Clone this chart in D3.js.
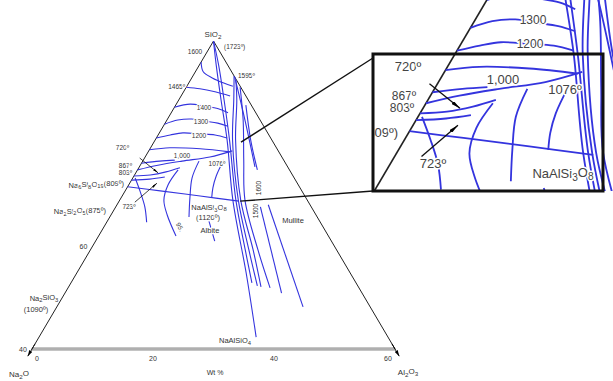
<!DOCTYPE html>
<html><head><meta charset="utf-8">
<script src="https://cdn.jsdelivr.net/npm/d3@7"></script>
<style>
html,body{margin:0;padding:0;background:#fff;}
svg{display:block;font-family:"Liberation Sans",Arial,sans-serif;}
</style></head><body>
<svg id="c" width="613" height="381"></svg>
<script>
// ---- Data: compositions as [Al2O3 wt%, SiO2 wt%] ----
const liq1600 = [[0,95.9],[1.3,94.0],[3.4,92.8],[5.8,91.8],[7.6,91.2]];
const liq1465 = [[0,91.0],[2.4,90.7],[5.2,90.1],[8.1,89.3]];
const liq1400 = [[0,87.1],[2.3,87.7],[4.9,87.3],[7.4,86.8],[9.4,86.0]];
const liq1300 = [[0,83.8],[1.8,84.6],[4.0,84.8],[6.4,84.4],[8.7,84.0],[10.7,83.4]];
const liq1200 = [[0,81.1],[2.0,81.7],[3.9,82.1],[6.8,81.9],[9.4,81.7],[11.7,81.1]];
const liq1100 = [[0,78.8],[3.2,79.2],[8.3,79.0],[13.5,78.4]];
const bound1076 = [[0,74.9],[2.9,75.8],[6.5,76.6],[10.7,77.4],[13.8,78.6]];
const tie867 = [[0,76.2],[2.8,76.6],[5.2,76.8]];
const tie803a = [[0,73.7],[2.6,73.9],[4.9,74.5],[6.8,75.3]];
const tie803b = [[0,72.9],[2.9,73.1],[5.2,73.5]];
const boundAlbite = [[0,71.6],[5.8,70.8],[12.9,69.8],[19.8,68.8]];
const arc1 = [[0.4,73.3],[2.6,70.6],[4.8,67.7],[6.6,64.7]];
const arc2 = [[6.7,74.9],[6.5,72.0],[7.3,69.0],[9.3,66.1],[12.8,62.0]];
const arc3 = [[9.3,76.6],[9.8,73.3],[11.4,69.4],[13.1,65.7]];
const arc4 = [[13.3,76.8],[13.6,73.7],[14.2,71.4],[15.0,69.4]];
const arc5 = [[16.8,64.9],[19.7,61.0]];
const joinNe = [[0,100],[2.8,95.3],[7.0,88.5],[11.9,80.7],[18.7,69.0],[28.0,54.8],[35.9,42.3]];
const mul1 = [[0,100],[3.2,95.3],[7.5,88.5],[12.3,80.7],[19.2,69.0],[25.6,59.3],[29.9,52.9]];
const mul2 = [[6.8,93.2],[9.1,88.5],[12.8,80.7],[19.6,69.0],[26.2,59.3],[31.1,52.3]];
const mul3 = [[7.5,92.4],[9.6,88.5],[13.3,80.7],[20.0,69.0],[26.9,59.3],[31.8,52.1]];
const mul4 = [[8.9,91.0],[12.6,84.6],[16.6,76.8],[20.7,69.0],[27.7,59.3],[33.4,51.9]];
const mul5 = [[7.0,93.0],[12.9,84.6],[19.1,75.5]];
const mul6 = [[11.6,87.5],[15.8,80.7],[19.8,74.9]];
const mul7 = [[23.9,67.7],[35.8,50.9]];
const mul8 = [[25.0,68.1],[40.7,48.2]];
const arrow720 = [[-0.8,77.2],[3.7,74.3]];
const arrow723 = [[2.7,68.6],[4.5,72.3]];
const zoomAnchors = [[14.4,80.3],[20.0,68.8]];
const bottomTicks = [0,20,40,60];
const leftTicks = [40,60];

const blueCurves = [liq1600,liq1465,liq1400,liq1300,liq1200,liq1100,bound1076,tie867,tie803a,tie803b,
  boundAlbite,arc1,arc2,arc3,arc4,arc5,joinNe,mul1,mul2,mul3,mul4,mul5,mul6,mul7,mul8];

// ---- Scales ----
const alX = d3.scaleLinear().domain([0,60]).range([32,395]);
const siY = d3.scaleLinear().domain([40,100]).range([349,41]);
const siShift = d3.scaleLinear().domain([40,100]).range([0,181.5]);
const P = d => [alX(d[0]) + siShift(d[1]), siY(d[1])];
const smooth = d3.line().x(d=>P(d)[0]).y(d=>P(d)[1]).curve(d3.curveCatmullRom.alpha(0.5));
const straight = d3.line().x(d=>P(d)[0]).y(d=>P(d)[1]);

const svg = d3.select("#c");
const defs = svg.append("defs");
defs.append("marker").attr("id","ah").attr("viewBox","0 0 10 4").attr("refX",10).attr("refY",2)
  .attr("markerWidth",7).attr("markerHeight",2.8).attr("orient","auto").attr("markerUnits","strokeWidth")
  .append("path").attr("d","M0,0L10,2L0,4z").attr("fill","#000");
defs.append("marker").attr("id","ah2").attr("viewBox","0 0 10 6").attr("refX",10).attr("refY",3)
  .attr("markerWidth",6).attr("markerHeight",4).attr("orient","auto").attr("markerUnits","userSpaceOnUse")
  .append("path").attr("d","M0,0L10,3L0,6z").attr("fill","#000");
defs.append("clipPath").attr("id","insetClip").append("rect").attr("x",373).attr("y",0).attr("width",240).attr("height",191);

const BLUE = "#3434de";

function chem(sel, str){
  const toks = str.match(/[A-Za-z]+|\d+|[^A-Za-z\d]+/g);
  let prevLetter = false, shifted = false;
  toks.forEach(t=>{
    const isDig = /^\d+$/.test(t);
    if(isDig && prevLetter){
      sel.append("tspan").attr("dy", shifted? 0 : "0.3em").attr("font-size","78%").text(t);
      shifted = true;
    } else {
      sel.append("tspan").attr("dy", shifted? "-0.3em":0).text(t);
      shifted = false;
    }
    prevLetter = /[A-Za-z]$/.test(t);
  });
}
function label(g, str, x, y, opts={}){
  const t = g.append("text").attr("x",x).attr("y",y)
    .attr("font-size", opts.size||7).attr("fill", opts.color||"#333")
    .attr("text-anchor", opts.anchor||"middle");
  if(opts.halo!==false){
    t.attr("stroke","#fff").attr("stroke-width",opts.hw||2.5).attr("stroke-linejoin","round").attr("paint-order","stroke");
  }
  if(opts.rot) t.attr("transform",`rotate(${opts.rot},${x},${y})`);
  chem(t, str);
  return t;
}

function drawCore(g, bw){
  g.append("path").attr("d", straight([[0,40],[0,100]])).attr("stroke","#222").attr("stroke-width",1).attr("fill","none");
  blueCurves.forEach(c=>{
    g.append("path").attr("d", smooth(c)).attr("fill","none").attr("stroke",BLUE).attr("stroke-width",bw);
  });
  [arrow720, arrow723].forEach(a=>{
    g.append("path").attr("d", straight(a)).attr("stroke","#111").attr("stroke-width",0.8)
      .attr("fill","none").attr("marker-end","url(#ah)");
  });
}

// ---- Main diagram ----
const main = svg.append("g");
main.append("path").attr("d", straight([[0,40],[60,40]])).attr("stroke","#8a8a8a").attr("stroke-width",3).attr("fill","none");
main.append("path").attr("d", straight([[0,40],[60,40]])).attr("stroke","#d4d4d4").attr("stroke-width",1).attr("fill","none");
main.append("path").attr("d", straight([[60,40],[0,100]])).attr("stroke","#222").attr("stroke-width",1).attr("fill","none");
main.append("path").attr("d", straight([[0,41],[0,38.6]])).attr("stroke","#000").attr("stroke-width",1).attr("marker-end","url(#ah2)");
main.append("path").attr("d", straight([[59,41],[61.4,38.6]])).attr("stroke","#000").attr("stroke-width",1).attr("marker-end","url(#ah2)");
drawCore(main, 1.1);

main.append("line").attr("x1",P(zoomAnchors[0])[0]).attr("y1",P(zoomAnchors[0])[1]).attr("x2",373).attr("y2",58)
  .attr("stroke","#111").attr("stroke-width",1.4);
main.append("line").attr("x1",P(zoomAnchors[1])[0]).attr("y1",P(zoomAnchors[1])[1]).attr("x2",373).attr("y2",191)
  .attr("stroke","#111").attr("stroke-width",1.4);

bottomTicks.forEach(v=>{
  const x = alX(v);
  label(main, String(v), v===0? x+3 : (v===60? x-7 : x), 361, {size:7, anchor: v===0?"start":"middle", halo:false});
});
leftTicks.forEach(v=>{
  const p = P([0,v]);
  label(main, String(v), p[0]-9, p[1]+3, {size:7, halo:false});
});

const T = 6.5, C = 7.5;
label(main, "SiO2", 213, 37, {size:8});
label(main, "(1723\u00ba)", 224, 49, {size:T, anchor:"start"});
label(main, "1600", 195, 54, {size:T});
label(main, "1595\u00ba", 238, 78, {size:T, anchor:"start"});
label(main, "1465\u00ba", 185, 89, {size:T, anchor:"end"});
label(main, "1400", 204, 110, {size:T});
label(main, "1300", 201, 124, {size:T});
label(main, "1200", 199, 138, {size:T});
label(main, "720\u00ba", 129, 150, {size:T, anchor:"end"});
label(main, "1,000", 182, 158, {size:T});
label(main, "1076\u00ba", 217, 166, {size:T});
label(main, "867\u00ba", 132, 167.5, {size:T, anchor:"end"});
label(main, "803\u00ba", 132, 175, {size:T, anchor:"end"});
label(main, "Na6Si8O19(809\u00ba)", 124, 187.5, {size:C, anchor:"end"});
label(main, "723\u00ba", 129, 208.5, {size:T});
label(main, "NaAlSi3O8", 209, 210, {size:C});
label(main, "(1120\u00ba)", 208, 219.5, {size:C});
label(main, "Albite", 210, 233, {size:C});
label(main, "95.", 178, 228, {size:T, rot:62});
label(main, "Na2Si2O5(875\u00ba)", 106, 214, {size:C, anchor:"end"});
label(main, "Na2SiO3", 44, 300.5, {size:C, halo:false});
label(main, "(1090\u00ba)", 36, 312, {size:C, halo:false});
label(main, "Wt %", 215, 375, {size:7, halo:false});
label(main, "Na2O", 19, 377, {size:8, halo:false});
label(main, "Al2O3", 408, 375, {size:8, halo:false});
label(main, "Mullite", 293, 223, {size:C});
label(main, "NaAlSiO4", 235, 343, {size:C});
label(main, "1600", 261, 188, {size:T, rot:-90});
label(main, "1500", 258, 211, {size:T, rot:-90});

// ---- Inset (magnified view) ----
const inset = svg.append("g").attr("clip-path","url(#insetClip)");
inset.append("rect").attr("x",373).attr("y",0).attr("width",240).attr("height",191).attr("fill","#fff");
const ig = inset.append("g").attr("transform","translate(199,-177) scale(1.65)");
drawCore(ig, 1.1);
const IS = 13, IC = "#444";
label(inset, "1300", 533, 24, {size:12, color:IC, hw:3});
label(inset, "1200", 530, 48, {size:12, color:IC, hw:3});
label(inset, "720\u00ba", 408, 71, {size:IS, color:IC, hw:3});
label(inset, "1,000", 503, 84, {size:IS, color:IC, hw:3});
label(inset, "1076\u00ba", 565, 94, {size:IS, color:IC, hw:3});
label(inset, "867\u00ba", 404, 99.5, {size:12, color:IC, hw:3});
label(inset, "803\u00ba", 402, 112, {size:12, color:IC, hw:3});
label(inset, "Na6Si8O19(809\u00ba)", 398, 140, {size:IS, color:IC, anchor:"end", hw:3});
label(inset, "723\u00ba", 433, 168, {size:IS, color:IC, hw:3});
label(inset, "NaAlSi3O8", 563, 178, {size:IS, color:IC, hw:3});
svg.append("rect").attr("x",373).attr("y",54).attr("width",230).attr("height",137)
  .attr("fill","none").attr("stroke","#111").attr("stroke-width",3);
</script>
</body></html>
